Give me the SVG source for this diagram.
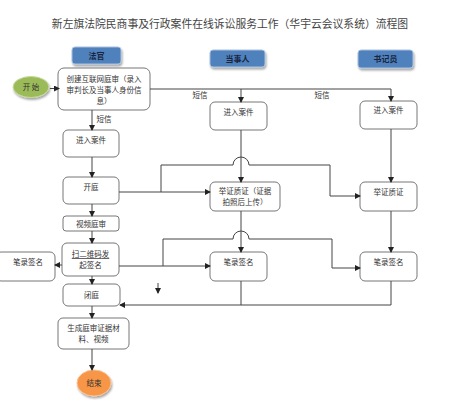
<svg xmlns="http://www.w3.org/2000/svg" width="470" height="400" viewBox="0 0 470 400">
<defs>
<marker id="ah" markerWidth="6" markerHeight="6" refX="5" refY="3" orient="auto" markerUnits="userSpaceOnUse">
<path d="M0,0 L6,3 L0,6 Z" fill="#222"/>
</marker>
<filter id="sh" x="-20%" y="-20%" width="150%" height="160%">
<feGaussianBlur in="SourceAlpha" stdDeviation="1"/>
<feOffset dx="1" dy="2" result="o"/>
<feComponentTransfer><feFuncA type="linear" slope="0.35"/></feComponentTransfer>
<feMerge><feMergeNode/><feMergeNode in="SourceGraphic"/></feMerge>
</filter>
</defs>
<style>
text{font-family:"Noto Sans CJK SC","Liberation Sans",sans-serif;fill:#333;text-anchor:middle;}
.t{font-size:7.5px;}
.title{font-size:10.8px;fill:#444;}
.hdr{font-size:8px;font-weight:bold;fill:#1a2540;}
.box{fill:#fff;stroke:#777;stroke-width:1;}
.hb{fill:#4f81bd;stroke:#a9c0dd;stroke-width:1;filter:url(#sh);}
.ln{fill:none;stroke:#444;stroke-width:1;}
.arr{marker-end:url(#ah);}
</style>
<rect width="470" height="400" fill="#fff"/>
<text class="title" x="230" y="28">新左旗法院民商事及行政案件在线诉讼服务工作（华宇云会议系统）流程图</text>

<g id="hdr-judge"><rect class="hb" x="72" y="47" width="49" height="17" rx="3"/><text class="hdr" x="96.5" y="58.5">法官</text></g>
<g id="hdr-party"><rect class="hb" x="210" y="50" width="55" height="17" rx="3"/><text class="hdr" x="237.5" y="61.5">当事人</text></g>
<g id="hdr-clerk"><rect class="hb" x="358" y="50" width="55" height="18" rx="3"/><text class="hdr" x="385.5" y="62">书记员</text></g>

<g id="start"><ellipse cx="31" cy="87" rx="18" ry="10.5" fill="#9bbb59" stroke="#c6d9a0" filter="url(#sh)"/><text class="t" x="31" y="90">开 始</text></g>
<g id="create"><rect class="box" x="58" y="68" width="92" height="42" rx="6"/><text class="t" x="104" y="82">创建互联网庭审（录入</text><text class="t" x="104" y="93">审判长及当事人身份信</text><text class="t" x="104" y="104">息）</text></g>
<g id="j-enter"><rect class="box" x="63" y="130" width="56" height="27" rx="5"/><text class="t" x="91" y="143">进入案件</text></g>
<g id="p-enter"><rect class="box" x="210" y="102" width="57" height="28" rx="5"/><text class="t" x="238.5" y="115">进入案件</text></g>
<g id="c-enter"><rect class="box" x="360" y="101" width="57" height="28" rx="5"/><text class="t" x="388.5" y="113">进入案件</text></g>
<g id="open"><rect class="box" x="63" y="177" width="56" height="27" rx="5"/><text class="t" x="91" y="190">开庭</text></g>
<g id="video"><rect class="box" x="63" y="216" width="56" height="15" rx="3"/><text class="t" x="91" y="226.5">视频庭审</text></g>
<g id="scan"><rect class="box" x="62" y="243" width="57" height="33" rx="5"/><text class="t" x="90.5" y="257" text-decoration="underline">扫二维码<tspan text-decoration="none">发</tspan></text><text class="t" x="90.5" y="268">起签名</text></g>
<g id="j-sign"><rect class="box" x="-4" y="252" width="59" height="29" rx="5"/><text class="t" x="28" y="265">笔录签名</text></g>
<g id="p-evid"><rect class="box" x="210" y="182" width="70" height="29" rx="5"/><text class="t" x="245" y="194">举证质证（证据</text><text class="t" x="245" y="205">拍照后上传）</text></g>
<g id="c-evid"><rect class="box" x="360" y="182" width="57" height="29" rx="5"/><text class="t" x="388.5" y="195">举证质证</text></g>
<g id="p-sign"><rect class="box" x="210" y="252" width="57" height="29" rx="5"/><text class="t" x="238.5" y="265">笔录签名</text></g>
<g id="c-sign"><rect class="box" x="360" y="252" width="57" height="29" rx="5"/><text class="t" x="388.5" y="265">笔录签名</text></g>
<g id="close"><rect class="box" x="63" y="284" width="57" height="22" rx="5"/><text class="t" x="91.5" y="297.5">闭庭</text></g>
<g id="gen"><rect class="box" x="58" y="318" width="71" height="31" rx="5"/><text class="t" x="93.5" y="331">生成庭审证据材</text><text class="t" x="93.5" y="342">料、视频</text></g>
<g id="end"><ellipse cx="94" cy="383" rx="17" ry="13" fill="#f79646" stroke="#fac08f" filter="url(#sh)"/><text class="t" x="94" y="386">结束</text></g>

<g id="connectors">
<path class="ln arr" d="M50,88.5 H59"/>
<path class="ln" d="M150,89 H391"/>
<path class="ln arr" d="M391,89 V101"/>
<path class="ln arr" d="M241,89 V102"/>
<path class="ln arr" d="M92,110 V130"/>
<path class="ln arr" d="M92,157 V177"/>
<path class="ln arr" d="M92,204 V216"/>
<path class="ln arr" d="M92,231 V243"/>
<path class="ln arr" d="M92,276 V284"/>
<path class="ln arr" d="M92,306 V318"/>
<path class="ln arr" d="M92,349 V370"/>
<path class="ln arr" d="M62,265 H55"/>
<path class="ln arr" d="M241,130 V182"/>
<path class="ln arr" d="M241,211 V252"/>
<path class="ln arr" d="M391,129 V182"/>
<path class="ln arr" d="M391,211 V252"/>
<path class="ln arr" d="M119,192 H210"/>
<path class="ln arr" d="M161,192 V165 H233 A8,8 0 0 1 249,165 H330 V196 H360"/>
<path class="ln arr" d="M119,266 H210"/>
<path class="ln arr" d="M163,266 V239 H233 A8,8 0 0 1 249,239 H332 V268 H360"/>
<path class="ln" d="M241,281 V305"/>
<path class="ln arr" d="M391,281 V305 H120"/>
<path class="ln arr" d="M158,283 V293" stroke-width="0.7"/>
<text class="t" x="104" y="122">短信</text>
<text class="t" x="200" y="98">短信</text>
<text class="t" x="322" y="98">短信</text>
</g>
</svg>
